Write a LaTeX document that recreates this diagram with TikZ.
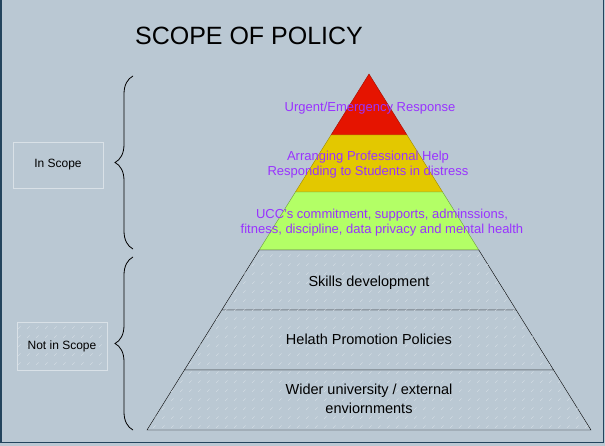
\documentclass[tikz,border=0pt]{standalone}
\usepackage{fontspec}
\setmainfont{Liberation Sans}
\usetikzlibrary{decorations.pathreplacing, patterns.meta}

\definecolor{bgcol}{HTML}{BAC8D3}
\definecolor{framecol}{HTML}{23445D}
\definecolor{hatchcol}{HTML}{D2DBE2}
\definecolor{urgentred}{HTML}{E51400}
\definecolor{helpyellow}{HTML}{E3C800}
\definecolor{careggreen}{HTML}{B3FF66}
\definecolor{purpletext}{HTML}{9933FF}

\tikzdeclarepattern{
    name = dashhatch,
    type = uncolored,
    bounding box = {(0pt,0pt) and (9pt,9pt)},
    tile size = {(9pt,9pt)},
    code = {\draw[line width = 0.6pt, dash pattern = on 4pt off 8.73pt] (0pt,0pt) -- (9pt,9pt);}
}

\tikzset{
    hatched/.style = {postaction = {pattern = dashhatch, pattern color = hatchcol}},
    greylayer/.style = {draw = black, fill = bgcol, hatched},
    purplelabel/.style = {text = purpletext, font = \fontsize{13}{15}\selectfont, align = center, inner sep = 0},
    blacklabel/.style = {text = black, font = \fontsize{14.5}{19}\selectfont, align = center, inner sep = 0},
    scopebox/.style = {draw = white!45!bgcol, font = \fontsize{12}{14}\selectfont, minimum width = 90pt, inner sep = 0},
    scopebrace/.style = {draw = black, line width = 0.8pt, decorate, decoration = {brace, amplitude = 18pt}}
}

\begin{document}
\begin{tikzpicture}[x = 1pt, y = -1pt]
            \useasboundingbox (0,0) rectangle (605,446);
            \fill[bgcol] (0,0) rectangle (605,446);
            \draw[framecol, line width = 1.5pt] (0.75,0) -- (0.75,442.25) -- (603.25,442.25) -- (603.25,0);

            % title
            \node (title) at (249,36) {\fontsize{25}{30}\selectfont SCOPE OF POLICY};

            % pyramid, top to bottom
            \draw[fill = urgentred, draw = urgentred!70!black] (369,74) -- (407.0,135) -- (331.0,135) -- cycle;
            \draw[fill = helpyellow, draw = helpyellow!70!black] (331.0,135) -- (407.0,135) -- (442.6,192) -- (295.4,192) -- cycle;
            \draw[fill = careggreen, draw = careggreen!60!black] (295.4,192) -- (442.6,192) -- (478.8,250) -- (259.2,250) -- cycle;
            \draw[greylayer] (259.2,250) -- (478.8,250) -- (516.2,310) -- (221.8,310) -- cycle;
            \draw[greylayer] (221.8,310) -- (516.2,310) -- (553.6,370) -- (184.4,370) -- cycle;
            \draw[greylayer] (184.4,370) -- (553.6,370) -- (591,430) -- (147,430) -- cycle;

            \node[purplelabel] (urgent) at (370,108.5) {Urgent/Emergency Response};
            \node[purplelabel] (help) at (368,165) {Arranging Professional Help\\Responding to Students in distress};
            \node[purplelabel] (commit) at (382,223) {UCC's commitment, supports, adminssions,\\fitness, discipline, data privacy and mental health};
            \node[blacklabel] (skills) at (369,283) {Skills development};
            \node[blacklabel] (promotion) at (369,339) {Helath Promotion Policies};
            \node[blacklabel] (wider) at (369,398.5) {Wider university / external\\enviornments};

            % scope brackets
            \coordinate (intop) at (133,76);
            \coordinate (inbot) at (133,249);
            \coordinate (outtop) at (133,257);
            \coordinate (outbot) at (133,430);
            \draw[scopebrace] (inbot) -- (intop);
            \draw[scopebrace] (outbot) -- (outtop);

            \node[scopebox, minimum height = 46pt] (inscope) at (58,165) {In Scope};
            \node[scopebox, minimum height = 48pt, hatched] (outscope) at (62,346) {Not in Scope};
        \end{tikzpicture}
\end{document}
